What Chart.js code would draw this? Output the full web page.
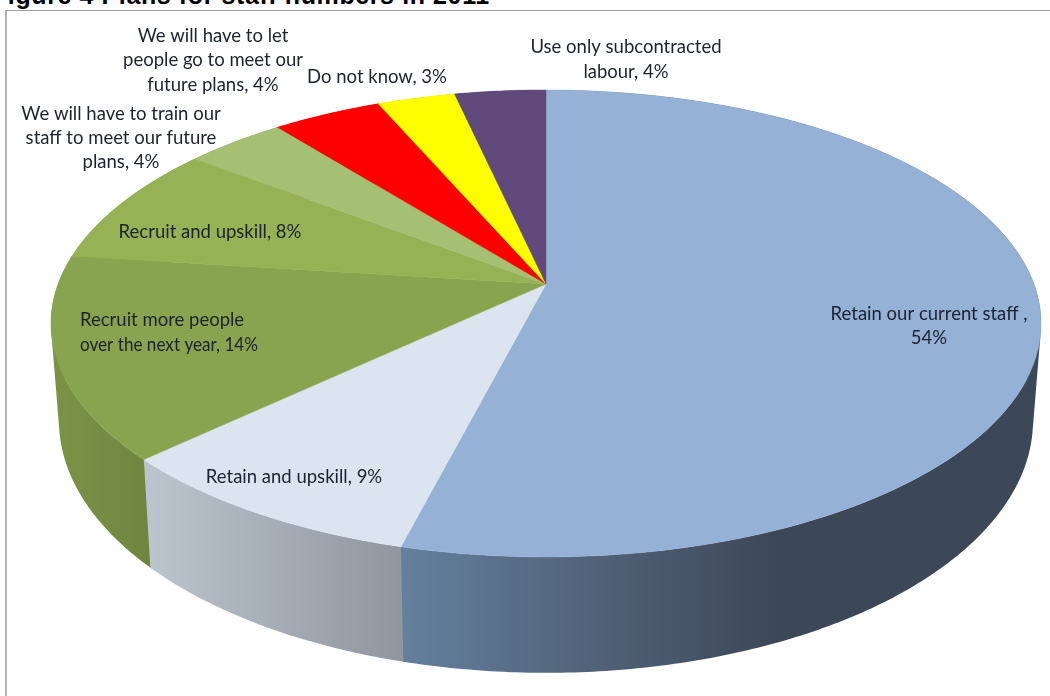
<!DOCTYPE html>
<html>
<head>
<meta charset="utf-8">
<title>Plans for staff numbers</title>
<script src="https://cdn.jsdelivr.net/npm/chart.js@4"></script>
<style>
    html, body { margin: 0; padding: 0; background: #fff; overflow: hidden; }
    #wrap { position: relative; width: 1050px; height: 696px; overflow: hidden; }
    #fig-title { position: absolute; left: -8px; top: -19px; font: bold 25px "Liberation Sans", Arial, sans-serif; letter-spacing: 0.6px; color: #000; white-space: nowrap; }
    #frame { position: absolute; left: 5px; top: 10px; width: 1060px; height: 700px; border-top: 1px solid #9c9c9c; border-left: 2px solid #b4b4b4; }
    #chart { position: absolute; left: 0; top: 0; }
</style>
</head>
<body>
<div id="wrap">
    <div id="fig-title">Figure 4 Plans for staff numbers in 2011</div>
    <div id="frame"></div>
    <canvas id="chart" width="1050" height="696"></canvas>
</div>
<script>
// Chart data
const categories = [
    'Retain our current staff',
    'Retain and upskill',
    'Recruit more people over the next year',
    'Recruit and upskill',
    'We will have to train our staff to meet our future plans',
    'We will have to let people go to meet our future plans',
    'Do not know',
    'Use only subcontracted labour'
];
// the printed labels round these
const shares = [54, 9, 14, 8.4, 3.9, 4.2, 3, 3.5];

// Label text, one entry per line
const labelLines = [
    ['Retain our current staff ,', '54%'],
    ['Retain and upskill, 9%'],
    ['Recruit more people', 'over the next year, 14%'],
    ['Recruit and upskill, 8%'],
    ['We will have to train our', 'staff to meet our future', 'plans, 4%'],
    ['We will have to let', 'people go to meet our', 'future plans, 4%'],
    ['Do not know, 3%'],
    ['Use only subcontracted', 'labour, 4%']
];

// Styles
const topColors = ['#95b1d6', '#dbe5f0', '#88a44e', '#95b355', '#a5bf73', '#ff0000', '#ffff00', '#604a7b'];
const wallStops = [
    [[0, '#64809e'], [0.38, '#4c5b70'], [0.6, '#3c4858'], [1, '#3c4858']],
    [[0, '#bbc3cd'], [1, '#8f969e']],
    [[0, '#7b9246'], [1, '#6e853e']],
    [[0, '#7b9246'], [1, '#7b9246']],
    [[0, '#7b9246'], [1, '#7b9246']],
    [[0, '#a00000'], [1, '#a00000']],
    [[0, '#a0a000'], [1, '#a0a000']],
    [[0, '#3c2e4e'], [1, '#3c2e4e']]
];
// x range each wall gradient runs over
const wallRange = [[401, 1031], [152, 404], [60, 152], [60, 152], [60, 152], [60, 152], [60, 152], [60, 152]];
const labelPos = [
    { x: 929, y: 314, align: 'center', gap: 24 },
    { x: 294, y: 477, align: 'center', gap: 24 },
    { x: 80, y: 320, align: 'left', gap: 25, maxWidth: 178 },
    { x: 210, y: 232, align: 'center', gap: 24 },
    { x: 121, y: 114, align: 'center', gap: 24 },
    { x: 213, y: 36, align: 'center', gap: 24.5 },
    { x: 377, y: 77, align: 'center', gap: 24 },
    { x: 626, y: 47, align: 'center', gap: 25 }
];

// Excel style perspective: the pie disc is not a flat ellipse, apex sits above the ellipse centre
const topDisc = { cx: 546, cy: 284, a: 487.9, b: 226.8, k: 0.169 };
const baseDisc = { cx: 546, cy: 378, a: 480, b: 245, k: 0.169 };

function project(disc, angle) {
    const ux = Math.cos(angle);
    const uy = Math.sin(angle);
    const w = 1 - disc.k * uy;
    return [disc.cx + disc.a * ux / w, disc.cy + disc.b * uy / w];
}

function arcPoints(disc, start, end) {
    const steps = Math.max(2, Math.ceil((end - start) * 90));
    const pts = [];
    for (let i = 0; i <= steps; i++) {
        pts.push(project(disc, start + (end - start) * i / steps));
    }
    return pts;
}

function fillPath(ctx, pts, style) {
    ctx.beginPath();
    pts.forEach((p, i) => i ? ctx.lineTo(p[0], p[1]) : ctx.moveTo(p[0], p[1]));
    ctx.closePath();
    ctx.fillStyle = style;
    ctx.strokeStyle = style;
    ctx.lineWidth = 0.5;
    ctx.fill();
    ctx.stroke();
}

// adds a quad to the current path, always wound the same way or nonzero fill cancels at the fold
function addQuad(ctx, quad) {
    let area = 0;
    quad.forEach((p, i) => {
        const q = quad[(i + 1) % 4];
        area += p[0] * q[1] - q[0] * p[1];
    });
    const pts = area < 0 ? quad.slice().reverse() : quad;
    pts.forEach((p, i) => i ? ctx.lineTo(p[0], p[1]) : ctx.moveTo(p[0], p[1]));
    ctx.closePath();
}

const pie3d = {
    id: 'pie3d',
    // canvas arcs can't take a perspective transform, so the slices are painted here from the arc elements
    beforeDatasetDraw() {
        return false;
    },
    afterDatasetsDraw(chart) {
        const ctx = chart.ctx;
        const arcs = chart.getDatasetMeta(0).data;

        // walls, back slices first. All strips go in one path so they don't show seams
        [7, 6, 5, 4, 3, 2, 1, 0].forEach(i => {
            const arc = arcs[i];
            const top = arcPoints(topDisc, arc.startAngle - 0.003, arc.endAngle);
            const base = arcPoints(baseDisc, arc.startAngle - 0.003, arc.endAngle);
            const grad = ctx.createLinearGradient(wallRange[i][0], 0, wallRange[i][1], 0);
            wallStops[i].forEach(s => grad.addColorStop(s[0], s[1]));
            ctx.beginPath();
            for (let n = 0; n < top.length - 1; n++) {
                addQuad(ctx, [top[n], top[n + 1], base[n + 1], base[n]]);
            }
            ctx.fillStyle = grad;
            ctx.fill();
        });

        // top surface
        arcs.forEach((arc, i) => {
            const pts = arcPoints(topDisc, arc.startAngle, arc.endAngle);
            pts.push([topDisc.cx, topDisc.cy]);
            fillPath(ctx, pts, topColors[i]);
        });

        // labels
        ctx.font = '18.5px Lato, Carlito, sans-serif';
        ctx.fillStyle = '#1c2230';
        ctx.textBaseline = 'middle';
        labelLines.forEach((lines, i) => {
            const pos = labelPos[i];
            ctx.textAlign = pos.align;
            lines.forEach((line, n) => ctx.fillText(line, pos.x, pos.y + n * pos.gap, pos.maxWidth));
        });
    }
};

const chart = new Chart(document.getElementById('chart'), {
    type: 'pie',
    data: {
        labels: categories,
        datasets: [{
            data: shares,
            backgroundColor: topColors,
            borderWidth: 0
        }]
    },
    options: {
        responsive: false,
        animation: false,
        plugins: {
            legend: { display: false },
            tooltip: { enabled: false }
        }
    },
    plugins: [pie3d]
});
</script>
</body>
</html>
